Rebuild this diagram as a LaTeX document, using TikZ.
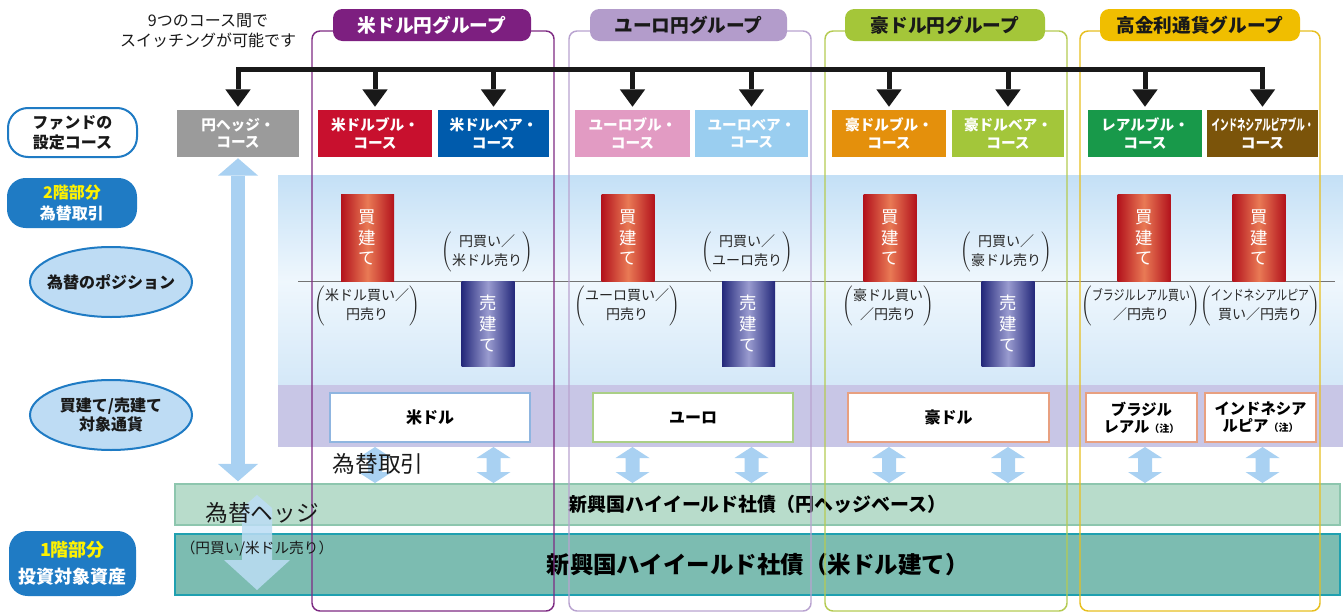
\documentclass[tikz,border=0pt]{standalone}
\usepackage{fontspec}
\setmainfont{Noto Sans CJK JP}
\usepackage{graphicx}
\usetikzlibrary{arrows.meta,shapes.geometric}
\newcommand{\setfs}[2]{\fontsize{#1}{#2}\selectfont}
\newcommand{\parlab}[2]{$\left(\begin{tabular}{@{}c@{}}#1\\#2\end{tabular}\right)$}
\definecolor{panTop}{HTML}{C4E0F6}
\definecolor{panMid}{HTML}{EFF7FD}
\definecolor{panBot}{HTML}{D4E8F8}
\definecolor{bandC}{HTML}{C8C6E6}
\definecolor{bar1F}{HTML}{B8DCCB}
\definecolor{bar1D}{HTML}{8DC6AE}
\definecolor{bar2F}{HTML}{7CBCB1}
\definecolor{bar2D}{HTML}{1FA0B0}
\definecolor{arrB}{HTML}{A9D1F2}
\definecolor{hedgeC}{HTML}{BCDDF5}
\definecolor{usC}{HTML}{7E2B83}
\definecolor{usF}{HTML}{7D1F80}
\definecolor{euC}{HTML}{B9A3D0}
\definecolor{euF}{HTML}{B39CCB}
\definecolor{auC}{HTML}{B5CB52}
\definecolor{auF}{HTML}{A4C639}
\definecolor{hiC}{HTML}{E7BF1F}
\definecolor{hiF}{HTML}{F0BE00}
\definecolor{cGray}{HTML}{9B9B9B}
\definecolor{cRed}{HTML}{C8102E}
\definecolor{cBlue}{HTML}{005BAC}
\definecolor{cPink}{HTML}{E29BC3}
\definecolor{cSky}{HTML}{9ACEF0}
\definecolor{cOrange}{HTML}{E4900C}
\definecolor{cLime}{HTML}{A3C63A}
\definecolor{cGreen}{HTML}{18994A}
\definecolor{cBrown}{HTML}{7B540A}
\definecolor{redE}{HTML}{B3121C}
\definecolor{redM}{HTML}{E97A55}
\definecolor{blueE}{HTML}{23287A}
\definecolor{blueM}{HTML}{9A9CD0}
\definecolor{curUS}{HTML}{8FB5E0}
\definecolor{curEU}{HTML}{AACF86}
\definecolor{curAU}{HTML}{E8A080}
\definecolor{labBlue}{HTML}{1F7BC4}
\definecolor{ellF}{HTML}{BEDCF4}
\definecolor{labYel}{HTML}{FFF200}
\begin{document}
\begin{tikzpicture}[x=0.75pt,y=-0.75pt,
  bw/.style={minimum width=#1*0.75pt},
  course/.style={rectangle, inner sep=0pt, minimum height=47*0.75pt, text=white, font=\setfs{11}{13}\bfseries, align=center},
  pill/.style={rectangle, rounded corners=7pt, inner sep=0pt, minimum height=32*0.75pt, font=\setfs{14}{16}\bfseries},
  grp/.style={line width=1.1pt, rounded corners=6pt},
  sw/.style={line width=3.75pt, draw=black!90},
  swtip/.style={-{Triangle[width=19pt,length=13pt,line width=0pt]}},
  swtips/.style={{Triangle[width=19pt,length=13pt,line width=0pt]}-{Triangle[width=19pt,length=13pt,line width=0pt]}},
  buy/.style={rectangle, inner sep=0pt, minimum width=53*0.75pt, minimum height=87*0.75pt, left color=redE, right color=redE, middle color=redM, text=white, font=\setfs{13}{15.5}, align=center},
  sell/.style={rectangle, inner sep=0pt, minimum width=53*0.75pt, minimum height=85*0.75pt, left color=blueE, right color=blueE, middle color=blueM, text=white, font=\setfs{13}{15.5}, align=center},
  plab/.style={inner sep=0pt, font=\setfs{10.5}{14.5}, text=black!85},
  cur/.style={rectangle, fill=white, line width=1.4pt, inner sep=0pt, minimum height=49*0.75pt, font=\setfs{12}{13}\bfseries, align=center},
  dblarr/.pic={\fill[arrB] (0,-18) -- (17,-7) -- (7,-7) -- (7,7) -- (17,7) -- (0,18) -- (-17,7) -- (-7,7) -- (-7,-7) -- (-17,-7) -- cycle;},
  longarr/.style={draw=arrB, line width=10.5pt, {Triangle[width=30pt,length=13pt,line width=0pt]}-{Triangle[width=30pt,length=13pt,line width=0pt]}},
  lbox/.style={rectangle, inner sep=0pt, align=center, font=\setfs{12}{15}\bfseries},
  ell/.style={ellipse, inner sep=0pt, fill=ellF, draw=labBlue, line width=1.5pt, minimum width=162*0.75pt, minimum height=70*0.75pt},
  elltext/.style={align=center, inner sep=0pt, font=\setfs{12}{14}\bfseries, text=black!90}
]
\fill[white] (0,0) rectangle (1343,614);
\useasboundingbox (0,0) rectangle (1343,614);

% panels
\shade[top color=panTop, bottom color=panMid] (278,175) rectangle (1343,282);
\shade[top color=panMid, bottom color=panBot] (278,281) rectangle (1343,385);
\fill[bandC] (278,385) rectangle (1343,447);
\draw[black!55, line width=0.6pt] (298,281) -- (1335,281);

% bottom bars
\node[rectangle, fill=bar1F, draw=bar1D, line width=1.1pt, bw=1165, minimum height=41*0.75pt, inner sep=0pt, font=\setfs{14.2}{14}\bfseries] (hb1) at (757.5,504.5) {新興国ハイイールド社債（円ヘッジベース）};
\node[rectangle, fill=bar2F, draw=bar2D, line width=1.5pt, bw=1165, minimum height=61*0.75pt, inner sep=0pt, font=\setfs{17.6}{17}\bfseries] (hb2) at (757.5,564.5) {\raisebox{-2pt}{新興国ハイイールド社債（米ドル建て）}};

% group outlines
\draw[grp, draw=usC] (312,31) rectangle (554,611);
\draw[grp, draw=euC] (569,31) rectangle (811,611);
\draw[grp, draw=auC] (825,31) rectangle (1067,611);
\draw[grp, draw=hiC] (1080,31) rectangle (1320,611);
\node[pill, bw=198, fill=usF, text=white] (gus) at (432,25) {米ドル円グループ};
\node[pill, bw=197, fill=euF, text=black!90] (geu) at (688.5,25) {ユーロ円グループ};
\node[pill, bw=200, fill=auF, text=black!90] (gau) at (945,25) {豪ドル円グループ};
\node[pill, bw=200, fill=hiF, text=black!90] (ghi) at (1200,25) {高金利通貨グループ};

% note
\node[font=\setfs{12}{15}, align=center, text=black!90] (note) at (208,31) {9つのコース間で\\スイッチングが可能です};

% courses
\node[course, bw=122, fill=cGray] (c0) at (238,133.5) {円ヘッジ・\\コース};
\node[course, bw=114, fill=cRed] (c1) at (375,133.5) {米ドルブル・\\コース};
\node[course, bw=111, fill=cBlue] (c2) at (493.5,133.5) {米ドルベア・\\コース};
\node[course, bw=115, fill=cPink] (c3) at (632.5,133.5) {ユーロブル・\\コース};
\node[course, bw=113, fill=cSky] (c4) at (751.5,133.5) {ユーロベア・\\コース};
\node[course, bw=114, fill=cOrange] (c5) at (889,133.5) {豪ドルブル・\\コース};
\node[course, bw=112, fill=cLime] (c6) at (1008,133.5) {豪ドルベア・\\コース};
\node[course, bw=114, fill=cGreen] (c7) at (1145,133.5) {レアルブル・\\コース};
\node[course, bw=111, fill=cBrown] (c8) at (1262.5,133.5) {\scalebox{0.58}[1]{インドネシアルピアブル・}\\コース};

% switching connectors
\coordinate (swy) at (0,69);
\draw[sw, swtips, line join=miter, shorten <=2.25pt, shorten >=2.25pt] (c0.north) -- (c0.north |- swy) -- (c8.north |- swy) -- (c8.north);
\foreach \c in {c1,c2,c3,c4,c5,c6,c7}
  \draw[sw, swtip, shorten >=2.25pt] (\c.north |- swy) -- (\c.north);

% long yen-hedge arrow
\draw[longarr, shorten <=0.75pt, shorten >=1.5pt] (c0.south) -- (c0.south |- hb1.north);

% positions
\node[buy] (bus) at (367.5,237.5) {買\\建\\て};
\node[sell] (sus) at (488,323.5) {売\\建\\て};
\node[buy] (beu) at (628,237.5) {買\\建\\て};
\node[sell] (seu) at (748.5,323.5) {売\\建\\て};
\node[buy] (bau) at (890,237.5) {買\\建\\て};
\node[sell] (sau) at (1008,323.5) {売\\建\\て};
\node[buy] (bbr) at (1144,237.5) {買\\建\\て};
\node[buy] (bid) at (1259,237.5) {買\\建\\て};

\node[plab] (pus1) at (487,252) {\parlab{円買い／}{米ドル売り}};
\node[plab] (pus2) at (367,306) {\parlab{米ドル買い／}{円売り}};
\node[plab] (peu1) at (747,252) {\parlab{円買い／}{ユーロ売り}};
\node[plab] (peu2) at (627,306) {\parlab{ユーロ買い／}{円売り}};
\node[plab] (pau1) at (1006,252) {\parlab{円買い／}{豪ドル売り}};
\node[plab] (pau2) at (888,306) {\parlab{豪ドル買い}{／円売り}};
\node[plab] (pbr) at (1141,306) {\parlab{\scalebox{0.78}[1]{ブラジルレアル買い}}{／円売り}};
\node[plab] (pid) at (1260,306) {\parlab{\scalebox{0.78}[1]{インドネシアルピア}}{買い／円売り}};

% currencies
\node[cur, bw=200, draw=curUS] (kus) at (430,417.5) {米ドル};
\node[cur, bw=200, draw=curEU] (keu) at (693,417.5) {ユーロ};
\node[cur, bw=201, draw=curAU] (kau) at (948.5,417.5) {豪ドル};
\node[cur, bw=111, draw=curAU, font=\setfs{11.5}{13}\bfseries] (kbr) at (1141.5,417.5) {ブラジル\\レアル{\setfs{7.5}{8}（注）}};
\node[cur, bw=111, draw=curAU, font=\setfs{11.5}{13}\bfseries] (kid) at (1260.5,417.5) {インドネシア\\ルピア{\setfs{7.5}{8}（注）}};

% fx double arrows
\coordinate (dmid) at (0,465);
\foreach \c in {c1,c2,c3,c4,c5,c6,c7,c8}
  \pic at (\c.south |- dmid) {dblarr};
\node[font=\setfs{17}{17}, text=black!90] (fxt) at (378,464) {為替取引};

% hedge arrow
\fill[hedgeC, opacity=0.85] (257,495) -- (272,508) -- (272,560) -- (290,560) -- (257,590) -- (224,560) -- (242,560) -- (242,508) -- cycle;
\node[font=\setfs{17}{17}, text=black!90] (hedge) at (262,513) {為替ヘッジ};
\node[font=\setfs{11}{11}, text=black!90] (hedgesub) at (257,549) {（円買い/米ドル売り）};

% left labels
\node[lbox, bw=129, minimum height=49*0.75pt, rounded corners=15pt, fill=white, draw=labBlue, line width=1.5pt, text=black!90] (lset) at (72.5,132.5) {ファンドの\\設定コース};
\node[lbox, bw=130, minimum height=50*0.75pt, rounded corners=14pt, fill=labBlue, text=white, font=\setfs{12}{16}\bfseries] (l2) at (72,203) {{\color{labYel}2階部分}\\為替取引};
\node[ell] (e1) at (111,282) {};
\node[elltext] (e1t) at (e1.center) {為替のポジション};
\node[ell] (e2) at (111,415) {};
\node[elltext] (e2t) at (e2.center) {買建て/売建て\\対象通貨};
\node[lbox, bw=127, minimum height=65*0.75pt, rounded corners=14pt, fill=labBlue, text=white, font=\setfs{13.5}{20}\bfseries] (l1) at (72.5,563.5) {{\color{labYel}1階部分}\\投資対象資産};
\end{tikzpicture}
\end{document}
